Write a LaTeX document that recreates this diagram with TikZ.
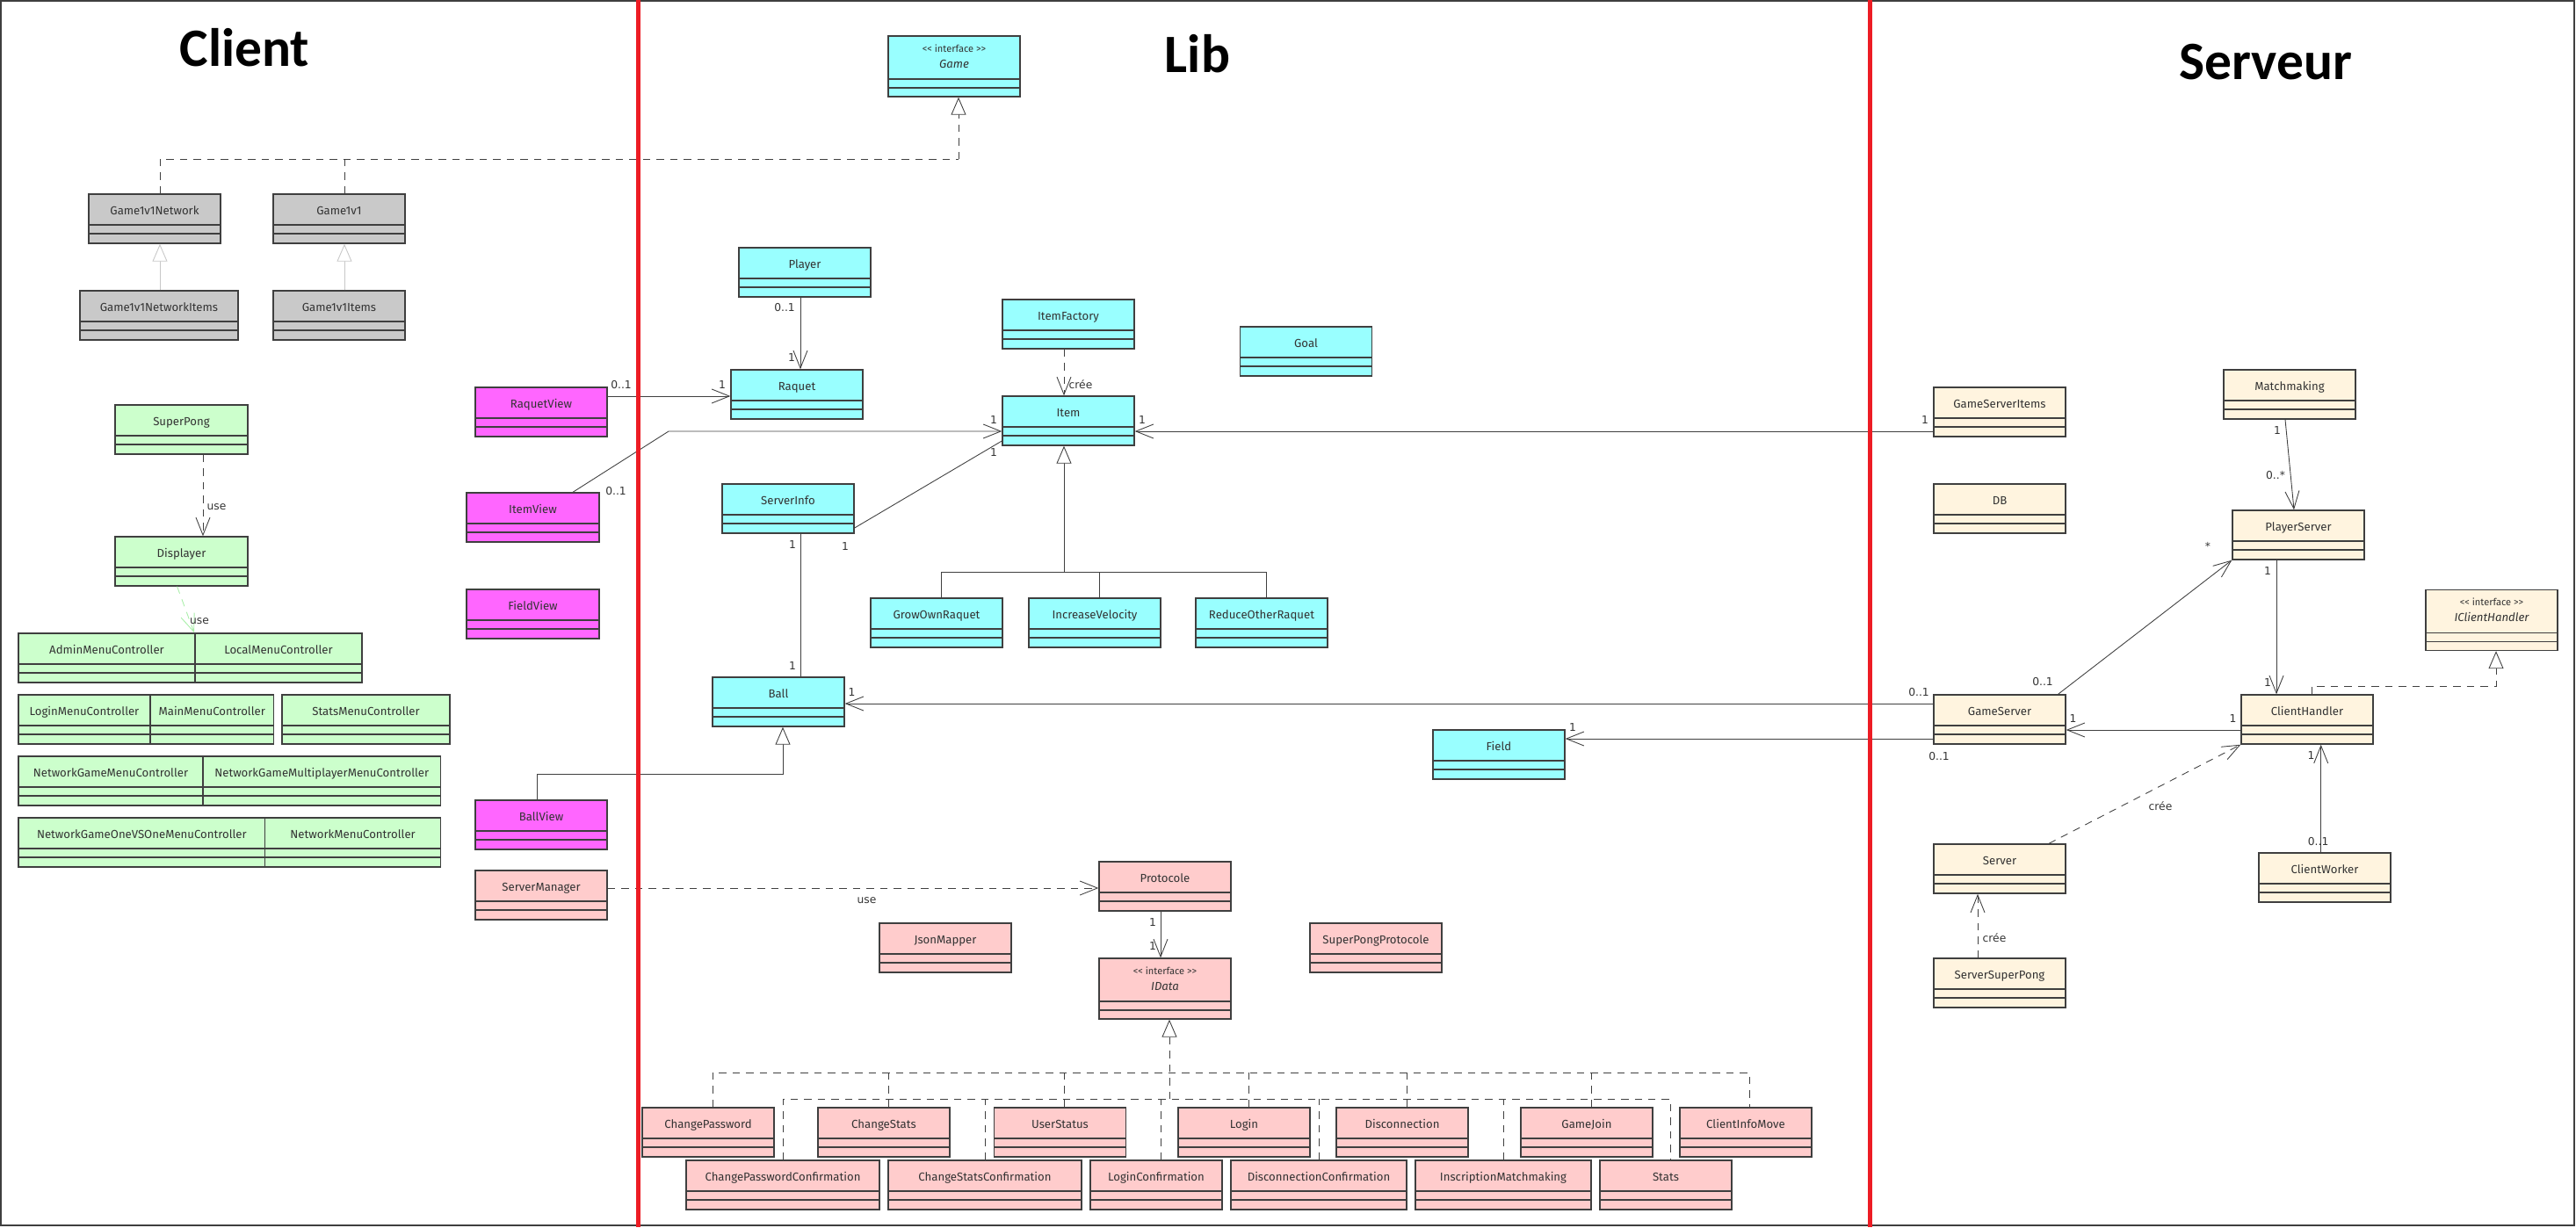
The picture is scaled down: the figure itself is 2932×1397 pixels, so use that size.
\documentclass[tikz,border=0pt]{standalone}
\usepackage{fontspec}
\setmainfont{Fira Sans}
\newfontfamily\headfont{Carlito}
\newfontfamily\lblfont{DejaVu Sans}
\usetikzlibrary{arrows.meta}
\definecolor{boxline}{HTML}{3F3F3F}
\definecolor{lin}{HTML}{404040}
\definecolor{txt}{HTML}{333333}
\definecolor{lightln}{HTML}{C8C8C8}
\definecolor{greenln}{HTML}{A8EEA8}
\definecolor{redln}{HTML}{ED1C24}
\definecolor{clsgray}{HTML}{C9C9C9}
\definecolor{clsgreen}{HTML}{CCFFCC}
\definecolor{clsmag}{HTML}{FF66FF}
\definecolor{clscyan}{HTML}{99FFFF}
\definecolor{clspink}{HTML}{FFCCCC}
\definecolor{clscream}{HTML}{FFF4DF}
\newcommand{\clsfont}{\fontsize{7.5}{9}\selectfont}
\newcommand{\lblsize}{\lblfont\fontsize{7}{8}\selectfont}
\tikzset{
  seps/.style 2 args={path picture={
      \draw[boxline, line width=0.8pt]
        ([yshift=-#1]path picture bounding box.north west) -- ([yshift=-#1]path picture bounding box.north east)
        ([yshift=-#2]path picture bounding box.north west) -- ([yshift=-#2]path picture bounding box.north east);}},
  cls/.style={draw=boxline, line width=0.8pt, fill=#1, inner sep=0pt,
    minimum width=3cm, font=\clsfont, text=txt,
    text height=0.46cm, text depth=0.66cm, seps={0.7cm}{0.9cm}},
  iface/.style={cls=#1, font=\clsfont\itshape,
    text height=0.72cm, text depth=0.66cm, seps={0.98cm}{1.18cm}},
  bw/.style={minimum width=#1*0.02cm},
  mult/.style={font=\lblsize, text=txt, inner sep=0pt},
  stereo/.style={font=\fontsize{6.3}{7}\selectfont, text=txt, inner sep=0pt},
  heading/.style={font=\headfont\bfseries\fontsize{35}{40}\selectfont, anchor=base, inner sep=0pt},
  link/.style={draw=lin, line width=0.5pt},
  assoc/.style={link, -{Straight Barb[length=0.4cm, width=0.32cm]}},
  gen/.style={link, -{Triangle[open, length=0.4cm, width=0.34cm, fill=white]}},
  dsh/.style={link, dash pattern=on 0.17cm off 0.14cm},
  dep/.style={assoc, dash pattern=on 0.17cm off 0.14cm},
  real/.style={gen, dash pattern=on 0.17cm off 0.14cm},
  genlight/.style={gen, draw=lightln},
  depgreen/.style={dep, draw=greenln},
}
\begin{document}
\begin{tikzpicture}[x=0.02cm, y=-0.02cm]
  \useasboundingbox (0,0) rectangle (2932,1397);
  \draw[boxline, line width=1pt] (1,1) rectangle (2930,1395);
  \draw
    (278.5,75) node[heading] (tClient) {Client}
    (1363,82) node[heading] (tLib) {Lib}
    (2579,90) node[heading] (tServeur) {Serveur};
  % client
  \draw
    (176,249) node[cls=clsgray] (Game1v1Network) {Game1v1Network}
    (386,249) node[cls=clsgray] (Game1v1) {Game1v1}
    (181,359) node[cls=clsgray, bw=180] (Game1v1NetworkItems) {Game1v1NetworkItems}
    (386,359) node[cls=clsgray] (Game1v1Items) {Game1v1Items}
    (206.5,489) node[cls=clsgreen, bw=151] (SuperPong) {SuperPong}
    (206.5,639) node[cls=clsgreen, bw=151] (Displayer) {Displayer}
    (121.5,749) node[cls=clsgreen, bw=201] (AdminMenuController) {AdminMenuController}
    (317,749) node[cls=clsgreen, bw=190] (LocalMenuController) {LocalMenuController}
    (96,819) node[cls=clsgreen] (LoginMenuController) {LoginMenuController}
    (241.25,819) node[cls=clsgreen, bw=140.5] (MainMenuController) {MainMenuController}
    (416.5,819) node[cls=clsgreen, bw=191] (StatsMenuController) {StatsMenuController}
    (126,889) node[cls=clsgreen, bw=210] (NetworkGameMenuController) {NetworkGameMenuController}
    (366.25,889) node[cls=clsgreen, bw=270.5] (NetworkGameMultiplayerMenuController) {NetworkGameMultiplayerMenuController}
    (161.35,959) node[cls=clsgreen, bw=280.7] (NetworkGameOneVSOneMenuController) {NetworkGameOneVSOneMenuController}
    (401.6,959) node[cls=clsgreen, bw=199.8] (NetworkMenuController) {NetworkMenuController}
    (616,469) node[cls=clsmag] (RaquetView) {RaquetView}
    (606.5,589) node[cls=clsmag, bw=151] (ItemView) {ItemView}
    (606.5,699) node[cls=clsmag, bw=151] (FieldView) {FieldView}
    (616,939) node[cls=clsmag] (BallView) {BallView}
    (616,1019) node[cls=clspink] (ServerManager) {ServerManager};
  % lib
  \draw
    (1086,75.5) node[iface=clscyan] (Game) {Game}
    (916,310) node[cls=clscyan] (Player) {Player}
    (907,449) node[cls=clscyan] (Raquet) {Raquet}
    (1216,369) node[cls=clscyan] (ItemFactory) {ItemFactory}
    (1486.5,400) node[cls=clscyan] (Goal) {Goal}
    (1216,479) node[cls=clscyan] (Item) {Item}
    (897,579) node[cls=clscyan] (ServerInfo) {ServerInfo}
    (1066,709) node[cls=clscyan] (GrowOwnRaquet) {GrowOwnRaquet}
    (1246,709) node[cls=clscyan] (IncreaseVelocity) {IncreaseVelocity}
    (1436,709) node[cls=clscyan] (ReduceOtherRaquet) {ReduceOtherRaquet}
    (886,799) node[cls=clscyan] (Ball) {Ball}
    (1706,859) node[cls=clscyan] (Field) {Field}
    (1326,1009) node[cls=clspink] (Protocol) {Protocole}
    (1076,1079) node[cls=clspink] (JsonMapper) {JsonMapper}
    (1566,1079) node[cls=clspink] (SuperPongProtocole) {SuperPongProtocole}
    (1326,1125.5) node[iface=clspink] (IData) {IData}
    (806,1289) node[cls=clspink] (ChangePassword) {ChangePassword}
    (1006,1289) node[cls=clspink] (ChangeStats) {ChangeStats}
    (1206.5,1289) node[cls=clspink] (UserStatus) {UserStatus}
    (1416,1289) node[cls=clspink] (Login) {Login}
    (1596,1289) node[cls=clspink] (Disconnection) {Disconnection}
    (1806,1289) node[cls=clspink] (GameJoin) {GameJoin}
    (1987,1289) node[cls=clspink] (ClientInfoMove) {ClientInfoMove}
    (891,1349) node[cls=clspink, bw=220] (ChangePasswordConfirmation) {ChangePasswordConfirmation}
    (1121,1349) node[cls=clspink, bw=220] (ChangeStatsConfirmation) {ChangeStatsConfirmation}
    (1316,1349) node[cls=clspink] (LoginConfirmation) {LoginConfirmation}
    (1501,1349) node[cls=clspink, bw=200] (DisconnectionConfirmation) {DisconnectionConfirmation}
    (1711,1349) node[cls=clspink, bw=200] (InscriptionMatchmaking) {InscriptionMatchmaking}
    (1896,1349) node[cls=clspink] (Stats) {Stats};
  % serveur
  \draw
    (2276,469) node[cls=clscream] (GameServerItems) {GameServerItems}
    (2276,579) node[cls=clscream] (DB) {DB}
    (2606,449) node[cls=clscream] (Matchmaking) {Matchmaking}
    (2616,609) node[cls=clscream] (PlayerServer) {PlayerServer}
    (2836,706) node[iface=clscream] (IClientHandler) {IClientHandler}
    (2276,819) node[cls=clscream] (GameServer) {GameServer}
    (2626,819) node[cls=clscream] (ClientHandler) {ClientHandler}
    (2276,989) node[cls=clscream] (Server) {Server}
    (2646,999) node[cls=clscream] (ClientWorker) {ClientWorker}
    (2276,1119) node[cls=clscream] (ServerSuperPong) {ServerSuperPong};
  \node[stereo] (GameSt) at ([yshift=-0.3cm]Game.north) {<{}< interface >{}>};
  \node[stereo] (IDataSt) at ([yshift=-0.3cm]IData.north) {<{}< interface >{}>};
  \node[stereo] (IClientHandlerSt) at ([yshift=-0.29cm]IClientHandler.north) {<{}< interface >{}>};
  \begin{scope}
    % client
    \coordinate (gj) at (1091,181);
    \draw[dsh] (Game1v1Network.north -| 182,0) |- (gj);
    \draw[dsh] (Game1v1.north -| 392,0) -- (392,181);
    \draw[real] (gj) -- (Game.south -| gj);
    \draw[genlight] (Game1v1NetworkItems.north -| 182,0) -- (Game1v1Network.south -| 182,0);
    \draw[genlight] (Game1v1Items.north -| 392,0) -- (Game1v1.south -| 392,0);
    \draw[dep] (SuperPong.south -| 231,0) -- (Displayer.north -| 231,0);
    \draw[depgreen] (Displayer.south -| 201.6,0) -- (AdminMenuController.north -| 221,0);
    % lib
    \draw[assoc] (RaquetView.east |- 0,451) -- (Raquet.west |- 0,451);
    \draw[assoc] (ItemView.north -| 652,0) -- (761,491) -- (Item.west |- 0,491);
    \draw[assoc] (Player.south -| 911,0) -- (Raquet.north -| 911,0);
    \draw[dep] (ItemFactory.south -| 1211,0) -- (Item.north -| 1211,0);
    \draw[link] (ServerInfo.east |- 0,601) -- (Item.west |- 0,502);
    \draw[link] (ServerInfo.south -| 911,0) -- (Ball.north -| 911,0);
    \draw[assoc] (GameServerItems.west |- 0,491) -- (Item.east |- 0,491);
    \coordinate (ig) at (1211,651);
    \draw[gen] (ig) -- (Item.south -| ig);
    \draw[link] (GrowOwnRaquet.north -| 1071.5,0) |- (ig) -| (ReduceOtherRaquet.north -| 1441,0);
    \draw[link] (IncreaseVelocity.north -| 1251.6,0) -- (1251.6,651);
    \draw[gen] (BallView.north -| 611,0) |- (891,881) -- (Ball.south -| 891,0);
    \draw[assoc] (GameServer.west |- 0,801) -- (Ball.east |- 0,801);
    \draw[assoc] (GameServer.west |- 0,841) -- (Field.east |- 0,841);
    \draw[dep] (ServerManager.east |- 0,1011) -- (Protocol.west |- 0,1011);
    \draw[assoc] (Protocol.south -| 1321,0) -- (IData.north -| 1321,0);
    \coordinate (dj) at (1331,1251);
    \draw[real] (dj) -- (IData.south -| dj);
    \draw[dsh] (ChangePassword.north -| 811,0) -- (811,1221) -- (1991,1221) -- (ClientInfoMove.north -| 1991,0);
    \foreach \n/\x in {ChangeStats/1011.7, UserStatus/1211.5, Login/1421, Disconnection/1601, GameJoin/1811}
      \draw[dsh] (\n.north -| \x,0) -- (\x,1221);
    \draw[dsh] (ChangePasswordConfirmation.north -| 891.5,0) -- (891.5,1251) -- (1901,1251) -- (Stats.north -| 1901,0);
    \foreach \n/\x in {ChangeStatsConfirmation/1121, LoginConfirmation/1321, DisconnectionConfirmation/1501.7, InscriptionMatchmaking/1711}
      \draw[dsh] (\n.north -| \x,0) -- (\x,1251);
    % serveur
    \draw[assoc] (Matchmaking.south -| 2601,0) -- (PlayerServer.north -| 2611,0);
    \draw[assoc] (GameServer.north -| 2342.5,0) -- (PlayerServer.south west);
    \draw[assoc] (PlayerServer.south -| 2591,0) -- (ClientHandler.north -| 2591,0);
    \draw[real] (ClientHandler.north -| 2631,0) |- (2841,781) -- (IClientHandler.south -| 2841,0);
    \draw[assoc] (ClientHandler.west |- 0,831) -- (GameServer.east |- 0,831);
    \draw[dep] (Server.north -| 2332,0) -- (ClientHandler.south west);
    \draw[assoc] (ClientWorker.north -| 2641.7,0) -- (ClientHandler.south -| 2641.7,0);
    \draw[dep] (ServerSuperPong.north -| 2251,0) -- (Server.south -| 2251,0);
  \end{scope}
  % labels
  \draw
    (246.5,577) node[mult] (uSuperPong) {use}
    (227,707.5) node[mult] (uDisplayer) {use}
    (1230,438) node[mult] (cItemFactory) {crée}
    (986.5,1025.5) node[mult] (uServerManager) {use}
    (2459,918) node[mult] (cServer) {crée}
    (2270,1068) node[mult] (cServerSuperPong) {crée}
    (707,438) node[mult] (mRaquetView) {0..1}
    (822,438) node[mult] (mRaquet) {1}
    (701,559) node[mult] (mItemView) {0..1}
    (1131,478) node[mult] (mItemL) {1}
    (893,350) node[mult] (mPlayer) {0..1}
    (901,407) node[mult] (mRaquetTop) {1}
    (962,622) node[mult] (mInfoR) {1}
    (1131,515) node[mult] (mItemLow) {1}
    (902,620) node[mult] (mInfoB) {1}
    (902,758) node[mult] (mBallTop) {1}
    (1300,478) node[mult] (mItemR) {1}
    (2191,478) node[mult] (mGSItems) {1}
    (969.5,788) node[mult] (mBallR) {1}
    (2184,788) node[mult] (mGSBall) {0..1}
    (1790,828) node[mult] (mField) {1}
    (2207,861) node[mult] (mGSField) {0..1}
    (1312,1050) node[mult] (mProto) {1}
    (1312,1077) node[mult] (mIData) {1}
    (2592,490) node[mult] (mMatch) {1}
    (2590,541) node[mult] (mPSTop) {0..*}
    (2513,621.5) node[mult] (mPSLow) {*}
    (2325,776) node[mult] (mGSTop) {0..1}
    (2581,650) node[mult] (mPSCH) {1}
    (2581,777) node[mult] (mCHTop) {1}
    (2359.5,818) node[mult] (mGSR) {1}
    (2541.5,818) node[mult] (mCHL) {1}
    (2638.6,958.5) node[mult] (mWorker) {0..1}
    (2630.6,860) node[mult] (mCHLow) {1};
  % separations
  \draw[redln, line width=0.1cm] (726,0) -- (726,1397);
  \draw[redln, line width=0.1cm] (2128,0) -- (2128,1397);
\end{tikzpicture}
\end{document}
